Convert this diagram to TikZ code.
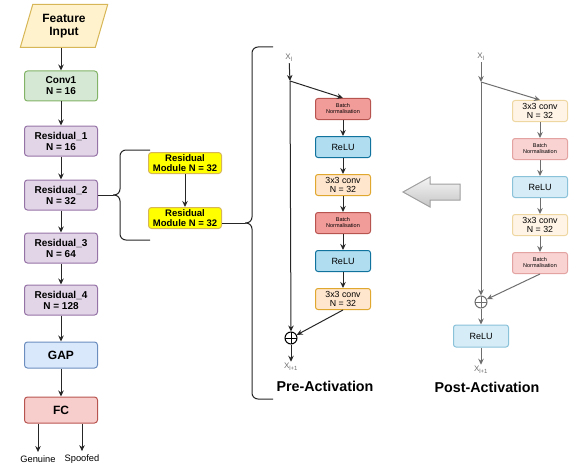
\documentclass[tikz,border=0pt]{standalone}
\usepackage{fontspec}
\setmainfont{Liberation Sans}
\usepackage{xcolor}
\usepackage{tikz}
\usetikzlibrary{arrows.meta,calc,positioning,shapes.geometric}
\definecolor{rninput}{HTML}{FFF2CC}
\definecolor{rninputln}{HTML}{D6B656}
\definecolor{rngreen}{HTML}{D5E8D4}
\definecolor{rngreenln}{HTML}{82B366}
\definecolor{rnpurple}{HTML}{E1D5E7}
\definecolor{rnpurpleln}{HTML}{9673A6}
\definecolor{rnblue}{HTML}{DAE8FC}
\definecolor{rnblueln}{HTML}{6C8EBF}
\definecolor{rnred}{HTML}{F8CECC}
\definecolor{rnredln}{HTML}{B85450}
\definecolor{rnmod}{HTML}{FFFF00}
\definecolor{rnmodln}{HTML}{D6B656}
\definecolor{rnbn}{HTML}{F19C99}
\definecolor{rnbnln}{HTML}{B85450}
\definecolor{rnrelu}{HTML}{B1DDF0}
\definecolor{rnreluln}{HTML}{10739E}
\definecolor{rnconv}{HTML}{FFE6CC}
\definecolor{rnconvln}{HTML}{E0A82E}
\definecolor{rnbnpost}{HTML}{F8D3D2}
\definecolor{rnbnpostln}{HTML}{E3A3A1}
\definecolor{rnrelupost}{HTML}{D6ECF6}
\definecolor{rnrelupostln}{HTML}{8AC2DA}
\definecolor{rnconvpost}{HTML}{FFF4E6}
\definecolor{rnconvpostln}{HTML}{EED7A0}
\definecolor{rnpost}{HTML}{6E6E6E}
\definecolor{rnink}{HTML}{262626}

\begin{document}
\begin{tikzpicture}[x=1pt,y=-1pt,font=\fontsize{9.3}{10}\selectfont,node distance=16pt,
  arr/.style={-{Stealth[length=6pt,width=5.5pt]},line width=1pt,rnink},
  garr/.style={arr,rnpost},
  box/.style={draw,rounded corners=3pt,line width=1pt,align=center,minimum width=73pt,
    minimum height=30pt,inner sep=1pt,font=\bfseries\fontsize{10}{11}\selectfont},
  resbox/.style={box,fill=rnpurple,draw=rnpurpleln},
  bigbox/.style={box,minimum height=26pt,font=\bfseries\fontsize{12}{13}\selectfont},
  modbox/.style={box,fill=rnmod,draw=rnmodln,minimum height=21pt,inner sep=.5pt,
    font=\bfseries\fontsize{9.5}{10.5}\selectfont},
  unit/.style={draw,rounded corners=2.5pt,line width=1pt,align=center,minimum width=55pt,
    minimum height=21pt,inner sep=.5pt},
  bnbox/.style={unit,fill=rnbn,draw=rnbnln,font=\fontsize{5.5}{6}\selectfont},
  relubox/.style={unit,fill=rnrelu,draw=rnreluln,font=\fontsize{9}{10}\selectfont},
  convbox/.style={unit,fill=rnconv,draw=rnconvln,font=\fontsize{8.8}{9.8}\selectfont},
  bnpost/.style={bnbox,fill=rnbnpost,draw=rnbnpostln},
  relupost/.style={relubox,fill=rnrelupost,draw=rnrelupostln},
  convpost/.style={convbox,fill=rnconvpost,draw=rnconvpostln},
  sumnode/.style={circle,draw,line width=1pt,minimum size=12pt,inner sep=0pt,
    path picture={\draw[line width=1pt] (path picture bounding box.north) -- (path picture bounding box.south)
      (path picture bounding box.west) -- (path picture bounding box.east);}},
  xlab/.style={text=gray!85!black,font=\fontsize{8}{9}\selectfont,inner sep=1.5pt},
  title/.style={font=\bfseries\fontsize{14.3}{15}\selectfont},
  bracket/.style={line width=1pt,rounded corners=6pt,draw=rnink}]
\useasboundingbox (0,0) rectangle (572,468);

\node[trapezium,trapezium left angle=70,trapezium right angle=110,trapezium stretches=true,
  draw=rninputln,fill=rninput,line width=1pt,minimum width=88pt,minimum height=43pt,
  align=center,inner sep=0pt,font=\bfseries\fontsize{12}{13}\selectfont] (input) at (64,26) {Feature\\Input};
\node[box,fill=rngreen,draw=rngreenln] (conv) at (61,86) {Conv1\\N = 16};
\node[resbox] (res1) at (61,141) {Residual\_1\\N = 16};
\node[resbox] (res2) at (61,195) {Residual\_2\\N = 32};
\node[resbox] (res3) at (61,248) {Residual\_3\\N = 64};
\node[resbox] (res4) at (61,300) {Residual\_4\\N = 128};
\node[bigbox,fill=rnblue,draw=rnblueln] (gap) at (61,355) {GAP};
\node[bigbox,fill=rnred,draw=rnredln] (fc) at (61,410) {FC};
\node (gen) at (38,459) {Genuine};
\node (spf) at (82,459) {Spoofed};
\foreach \a/\b in {input/conv,conv/res1,res1/res2,res2/res3,res3/res4,res4/gap,gap/fc}
  \draw[arr] (\a.south -| \b.north) -- (\b.north);
\draw[arr] (fc.south -| gen) -- (gen);
\draw[arr] (fc.south -| spf) -- (spf);

\node[modbox] (mod1) at (185,163) {Residual\\Module N = 32};
\node[modbox] (mod2) at (185,218) {Residual\\Module N = 32};
\draw[arr] (mod1) -- (mod2);
\coordinate (stip) at (113,195);
\coordinate (btip) at (245,223);
\draw[bracket] (res2.east) -- (stip);
\draw[bracket] (stip) -- ++(7,0) -- ++(0,-45) -- ++(30,0);
\draw[bracket] (stip) -- ++(7,0) -- ++(0,45) -- ++(30,0);
\draw[bracket] (mod2.east |- btip) -- (btip);
\draw[bracket] (btip) -- ++(7,0) -- ++(0,-176) -- ++(21,0);
\draw[bracket] (btip) -- ++(7,0) -- ++(0,176) -- ++(21,0);

\node[xlab] (pxi) at (289,58) {X\textsubscript{l}};
\coordinate (psplit) at (290,81);
\node[bnbox] (pbn1) at (343,109) {Batch\\Normalisation};
\node[relubox,below=of pbn1] (prelu1) {ReLU};
\node[convbox,below=of prelu1] (pconv1) {3x3 conv\\N = 32};
\node[bnbox,below=of pconv1] (pbn2) {Batch\\Normalisation};
\node[relubox,below=of pbn2] (prelu2) {ReLU};
\node[convbox,below=of prelu2] (pconv2) {3x3 conv\\N = 32};
\node[sumnode] (psum) at (291,338) {};
\node[xlab] (pxo) at (291,367) {X\textsubscript{l+1}};
\node[title] (ptitle) at (325,386) {Pre-Activation};
\draw[arr] (pxi) -- (psplit);
\draw[arr] (psplit) -- (pbn1.north);
\draw[arr] (psplit) -- (psum);
\foreach \a/\b in {pbn1/prelu1,prelu1/pconv1,pconv1/pbn2,pbn2/prelu2,prelu2/pconv2}
  \draw[arr] (\a) -- (\b);
\draw[arr] (pconv2.south) -- (psum);
\draw[arr] (psum) -- (pxo);

\draw[line width=1pt,draw=gray!75,top color=gray!8,bottom color=gray!45]
  (403,192) -- (430,177) -- (430,184) -- (460,184) -- (460,200) -- (430,200) -- (430,207) -- cycle;

\node[xlab] (qxi) at (481,57) {X\textsubscript{l}};
\coordinate (qsplit) at (481,82);
\node[convpost] (qconv1) at (540,111) {3x3 conv\\N = 32};
\node[bnpost,below=of qconv1] (qbn1) {Batch\\Normalisation};
\node[relupost,below=of qbn1] (qrelu1) {ReLU};
\node[convpost,below=of qrelu1] (qconv2) {3x3 conv\\N = 32};
\node[bnpost,below=of qconv2] (qbn2) {Batch\\Normalisation};
\node[sumnode,draw=rnpost] (qsum) at (481,302) {};
\node[relupost,minimum height=22pt] (qrelu2) at (481,336) {ReLU};
\node[xlab] (qxo) at (481,370) {X\textsubscript{l+1}};
\node[title] (qtitle) at (487,387) {Post-Activation};
\draw[garr] (qxi) -- (qsplit);
\draw[garr] (qsplit) -- (qconv1.north);
\draw[garr] (qsplit) -- (qsum);
\foreach \a/\b in {qconv1/qbn1,qbn1/qrelu1,qrelu1/qconv2,qconv2/qbn2}
  \draw[garr] (\a) -- (\b);
\draw[garr] (qbn2.south) -- (qsum);
\draw[garr] (qsum) -- (qrelu2);
\draw[garr] (qrelu2) -- (qxo);
\end{tikzpicture}
\end{document}
